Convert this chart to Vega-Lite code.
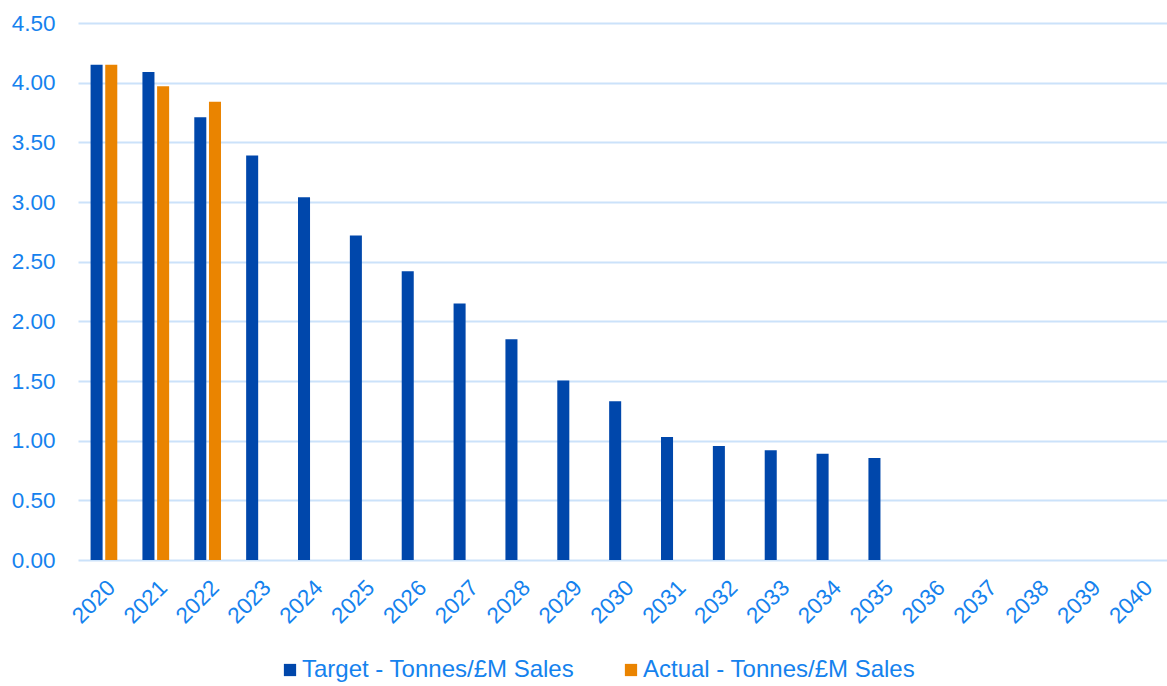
{
  "$schema": "https://vega.github.io/schema/vega-lite/v6.json",
  "autosize": "none",
  "width": 1089,
  "height": 537,
  "padding": {"left": 78, "top": 23, "right": 0, "bottom": 126},
  "background": "white",
  "config": {
    "view": {"stroke": null},
    "font": "Liberation Sans",
    "axis": {"labelFont": "Liberation Sans", "labelColor": "#1582EE", "labelFontSize": 22.5, "ticks": false, "tickSize": 0, "domain": false, "gridColor": "#CBE2FA", "gridWidth": 2, "gridOpacity": 1},
    "legend": {"labelFont": "Liberation Sans", "labelColor": "#1582EE", "labelFontSize": 24, "labelLimit": 0}
  },
  "data": {
    "values": [
      {"year": "2020", "series": "Target - Tonnes/£M Sales", "value": 4.15},
      {"year": "2021", "series": "Target - Tonnes/£M Sales", "value": 4.09},
      {"year": "2022", "series": "Target - Tonnes/£M Sales", "value": 3.71},
      {"year": "2023", "series": "Target - Tonnes/£M Sales", "value": 3.39},
      {"year": "2024", "series": "Target - Tonnes/£M Sales", "value": 3.04},
      {"year": "2025", "series": "Target - Tonnes/£M Sales", "value": 2.72},
      {"year": "2026", "series": "Target - Tonnes/£M Sales", "value": 2.42},
      {"year": "2027", "series": "Target - Tonnes/£M Sales", "value": 2.15},
      {"year": "2028", "series": "Target - Tonnes/£M Sales", "value": 1.85},
      {"year": "2029", "series": "Target - Tonnes/£M Sales", "value": 1.505},
      {"year": "2030", "series": "Target - Tonnes/£M Sales", "value": 1.33},
      {"year": "2031", "series": "Target - Tonnes/£M Sales", "value": 1.03},
      {"year": "2032", "series": "Target - Tonnes/£M Sales", "value": 0.955},
      {"year": "2033", "series": "Target - Tonnes/£M Sales", "value": 0.92},
      {"year": "2034", "series": "Target - Tonnes/£M Sales", "value": 0.89},
      {"year": "2035", "series": "Target - Tonnes/£M Sales", "value": 0.855},
      {"year": "2020", "series": "Actual - Tonnes/£M Sales", "value": 4.15},
      {"year": "2021", "series": "Actual - Tonnes/£M Sales", "value": 3.97},
      {"year": "2022", "series": "Actual - Tonnes/£M Sales", "value": 3.84}
    ]
  },
  "mark": {"type": "bar"},
  "encoding": {
    "x": {
      "field": "year", "type": "nominal", "title": null,
      "scale": {"domain": ["2020","2021","2022","2023","2024","2025","2026","2027","2028","2029","2030","2031","2032","2033","2034","2035","2036","2037","2038","2039","2040"], "paddingInner": 0.485, "paddingOuter": 0.2425},
      "axis": {"labelAngle": -45, "labelPadding": 16, "grid": false}
    },
    "xOffset": {
      "field": "series", "type": "nominal",
      "scale": {"domain": ["Target - Tonnes/£M Sales", "Actual - Tonnes/£M Sales"], "paddingInner": 0.18, "paddingOuter": 0}
    },
    "y": {
      "field": "value", "type": "quantitative", "title": null,
      "scale": {"domain": [0, 4.5], "nice": false},
      "axis": {"values": [0, 0.5, 1, 1.5, 2, 2.5, 3, 3.5, 4, 4.5], "format": ".2f", "labelPadding": 23, "grid": true}
    },
    "color": {
      "field": "series", "type": "nominal",
      "scale": {"domain": ["Target - Tonnes/£M Sales", "Actual - Tonnes/£M Sales"], "range": ["#0047AB", "#EA8400"]},
      "legend": {"title": null, "orient": "none", "legendX": 200, "legendY": 635, "direction": "horizontal", "symbolType": "square", "symbolSize": 150, "symbolStrokeWidth": 0, "symbolOpacity": 1, "columnPadding": 44, "labelOffset": 0}
    }
  }
}
